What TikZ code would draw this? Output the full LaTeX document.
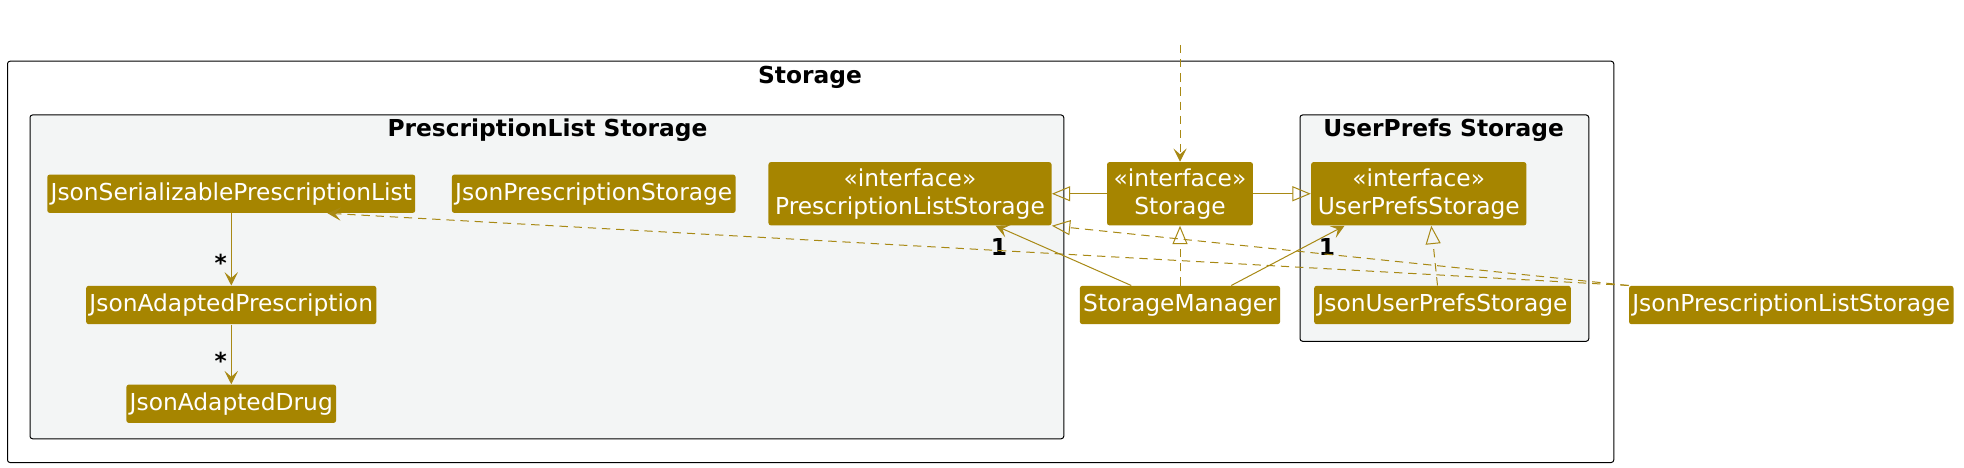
\documentclass[tikz,border=0pt]{standalone}
\usepackage{fontspec}
\setmainfont{DejaVu Sans}
\usetikzlibrary{arrows.meta,calc}
\definecolor{umlgold}{RGB}{166,133,0}
\definecolor{umlline}{RGB}{168,137,20}
\definecolor{pkgfill}{RGB}{243,245,245}
\tikzstyle{cls}=[rectangle,
	rounded corners=1.5pt,
	fill=umlgold,
	text=white,
	inner xsep=2pt,
	inner ysep=0pt,
	minimum height=23pt,
	font=\fontsize{14}{17}\selectfont]
\tikzstyle{iface}=[cls,
	align=center,
	minimum height=38pt,
	inner xsep=4pt]
\tikzstyle{pkg}=[draw=black,
	fill=pkgfill,
	rounded corners=1.5pt,
	line width=0.6pt]
\tikzstyle{title}=[font=\bfseries\fontsize{14}{17}\selectfont]
\tikzstyle{mult}=[font=\bfseries\fontsize{14}{17}\selectfont]
\tikzstyle{assoc}=[draw=umlline,
	line width=0.6pt,
	-{Stealth[length=8pt,width=8pt,inset=3.5pt]}]
\tikzstyle{inherit}=[draw=umlline,
	line width=0.6pt,
	-{Triangle[open,length=11pt,width=9pt]}]
\tikzstyle{realize}=[inherit, dash pattern=on 5pt off 3.5pt]
\tikzstyle{dep}=[assoc, dash pattern=on 5pt off 3.5pt]

\begin{document}
\begin{tikzpicture}[x=0.75pt, y=-0.75pt]
	\useasboundingbox (0,0) rectangle (1571.2,374.4);

	% packages
	\draw[pkg, fill=white] (6,49) rectangle (1291,370);
	\node (storagetitle) [title] at (648,62) {Storage};
	\draw[pkg] (24,92) rectangle (851,351);
	\node (pltitle) [title] at (438,104) {PrescriptionList Storage};
	\draw[pkg] (1040,92) rectangle (1271,273);
	\node (uptitle) [title] at (1155,104) {UserPrefs Storage};

	% classes
	\node (plstorage) [iface] at (728,155) {«interface»\\PrescriptionListStorage};
	\node (storage) [iface] at (944,155) {«interface»\\Storage};
	\node (upstorage) [iface] at (1135,155) {«interface»\\UserPrefsStorage};

	\node (jsonserial) [cls] at (185,155) {JsonSerializablePrescriptionList};
	\node (jsonpres) [cls] at (475,155) {JsonPrescriptionStorage};
	\node (jsonadapted) [cls, below of=jsonserial, node distance=66.75pt] {JsonAdaptedPrescription};
	\node (jsondrug) [cls, below of=jsonadapted, node distance=59.25pt] {JsonAdaptedDrug};

	\node (manager) [cls] at (944,244) {StorageManager};
	\node (jupstorage) [cls] at (1154,244) {JsonUserPrefsStorage};
	\node (jplstorage) [cls] at (1433,244) {JsonPrescriptionListStorage};

	\coordinate (caller) at (944,36);

	% connectors
	\draw[dep] (caller) -- (storage);
	\draw[inherit] (storage) -- (plstorage);
	\draw[inherit] (storage) -- (upstorage);
	\draw[realize] (manager) -- (storage);
	\draw[assoc] ($(manager.north)+(-39,0)$) -- ($(plstorage.south east)+(-45,0)$)
		node[mult, at end, below=4pt, xshift=2pt] {1};
	\draw[assoc] ($(manager.north)+(41,0)$) -- ($(upstorage.south west)+(27,0)$)
		node[mult, at end, below=4pt, xshift=-10.5pt] {1};
	\draw[realize] ($(jupstorage.north)+(-4,0)$) -- ($(upstorage.south)+(10,0)$);
	\draw[realize] (jplstorage.north west) -- (plstorage.south east);
	\draw[dep] (jplstorage.north west) -- ($(jsonserial.south)+(77,0)$);
	\draw[assoc] (jsonserial) -- (jsonadapted) node[mult, pos=0.69, left=-1pt] {*};
	\draw[assoc] (jsonadapted) -- (jsondrug) node[mult, pos=0.6, left=-1pt] {*};
\end{tikzpicture}
\end{document}
